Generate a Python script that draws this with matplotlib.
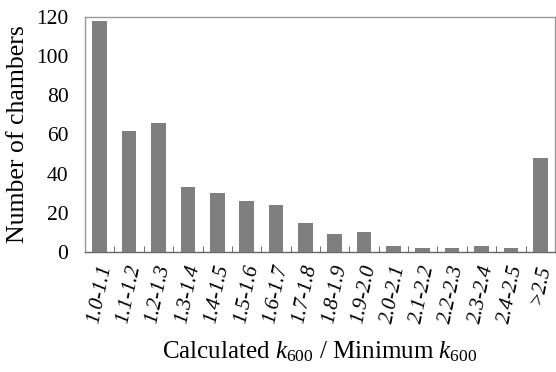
import numpy as np
import matplotlib
matplotlib.use("Agg")
import matplotlib.pyplot as plt

categories = ["1.0-1.1", "1.1-1.2", "1.2-1.3", "1.3-1.4", "1.4-1.5", "1.5-1.6",
              "1.6-1.7", "1.7-1.8", "1.8-1.9", "1.9-2.0", "2.0-2.1", "2.1-2.2",
              "2.2-2.3", "2.3-2.4", "2.4-2.5", ">2.5"]
counts = [118, 62, 66, 33, 30, 26, 24, 15, 9, 10, 3, 2, 2, 3, 2, 48]
y_ticks = [0, 20, 40, 60, 80, 100, 120]

plt.rcParams.update({
    "font.family": "Liberation Serif",
    "mathtext.fontset": "custom",
    "mathtext.rm": "Liberation Serif",
    "mathtext.it": "Liberation Serif:italic",
})

fig = plt.figure(figsize=(5.56, 3.72), dpi=100)
ax = fig.add_axes([0.153, 0.323, 0.845, 0.631])

x = np.arange(len(categories))
ax.bar(x, counts, width=0.5, color="#7f7f7f", zorder=3)

ax.set_xlim(-0.5, len(categories) - 0.5)
ax.set_ylim(0, 120)
ax.set_yticks(y_ticks)
ax.tick_params(axis="y", length=0, labelsize=15.5, pad=12)

ax.set_xticks(x)
ax.set_xticklabels(categories, rotation=78, fontstyle="italic", fontsize=15)
ax.tick_params(axis="x", length=0, pad=8)
ax.set_xticks(np.arange(0.5, len(categories) - 0.5), minor=True)
ax.tick_params(axis="x", which="minor", direction="in", length=4, color="#555555")

for s in ax.spines.values():
    s.set_color("#999999")
    s.set_linewidth(1.0)
ax.spines["bottom"].set_color("#666666")

ax.set_ylabel("Number of chambers", fontsize=18.5, labelpad=5)
ax.set_xlabel("Calculated $\\mathit{k}_{\\mathit{600}}$ / Minimum $\\mathit{k}_{\\mathit{600}}$",
              fontsize=18, labelpad=10)

fig.savefig("out.png", dpi=100)
